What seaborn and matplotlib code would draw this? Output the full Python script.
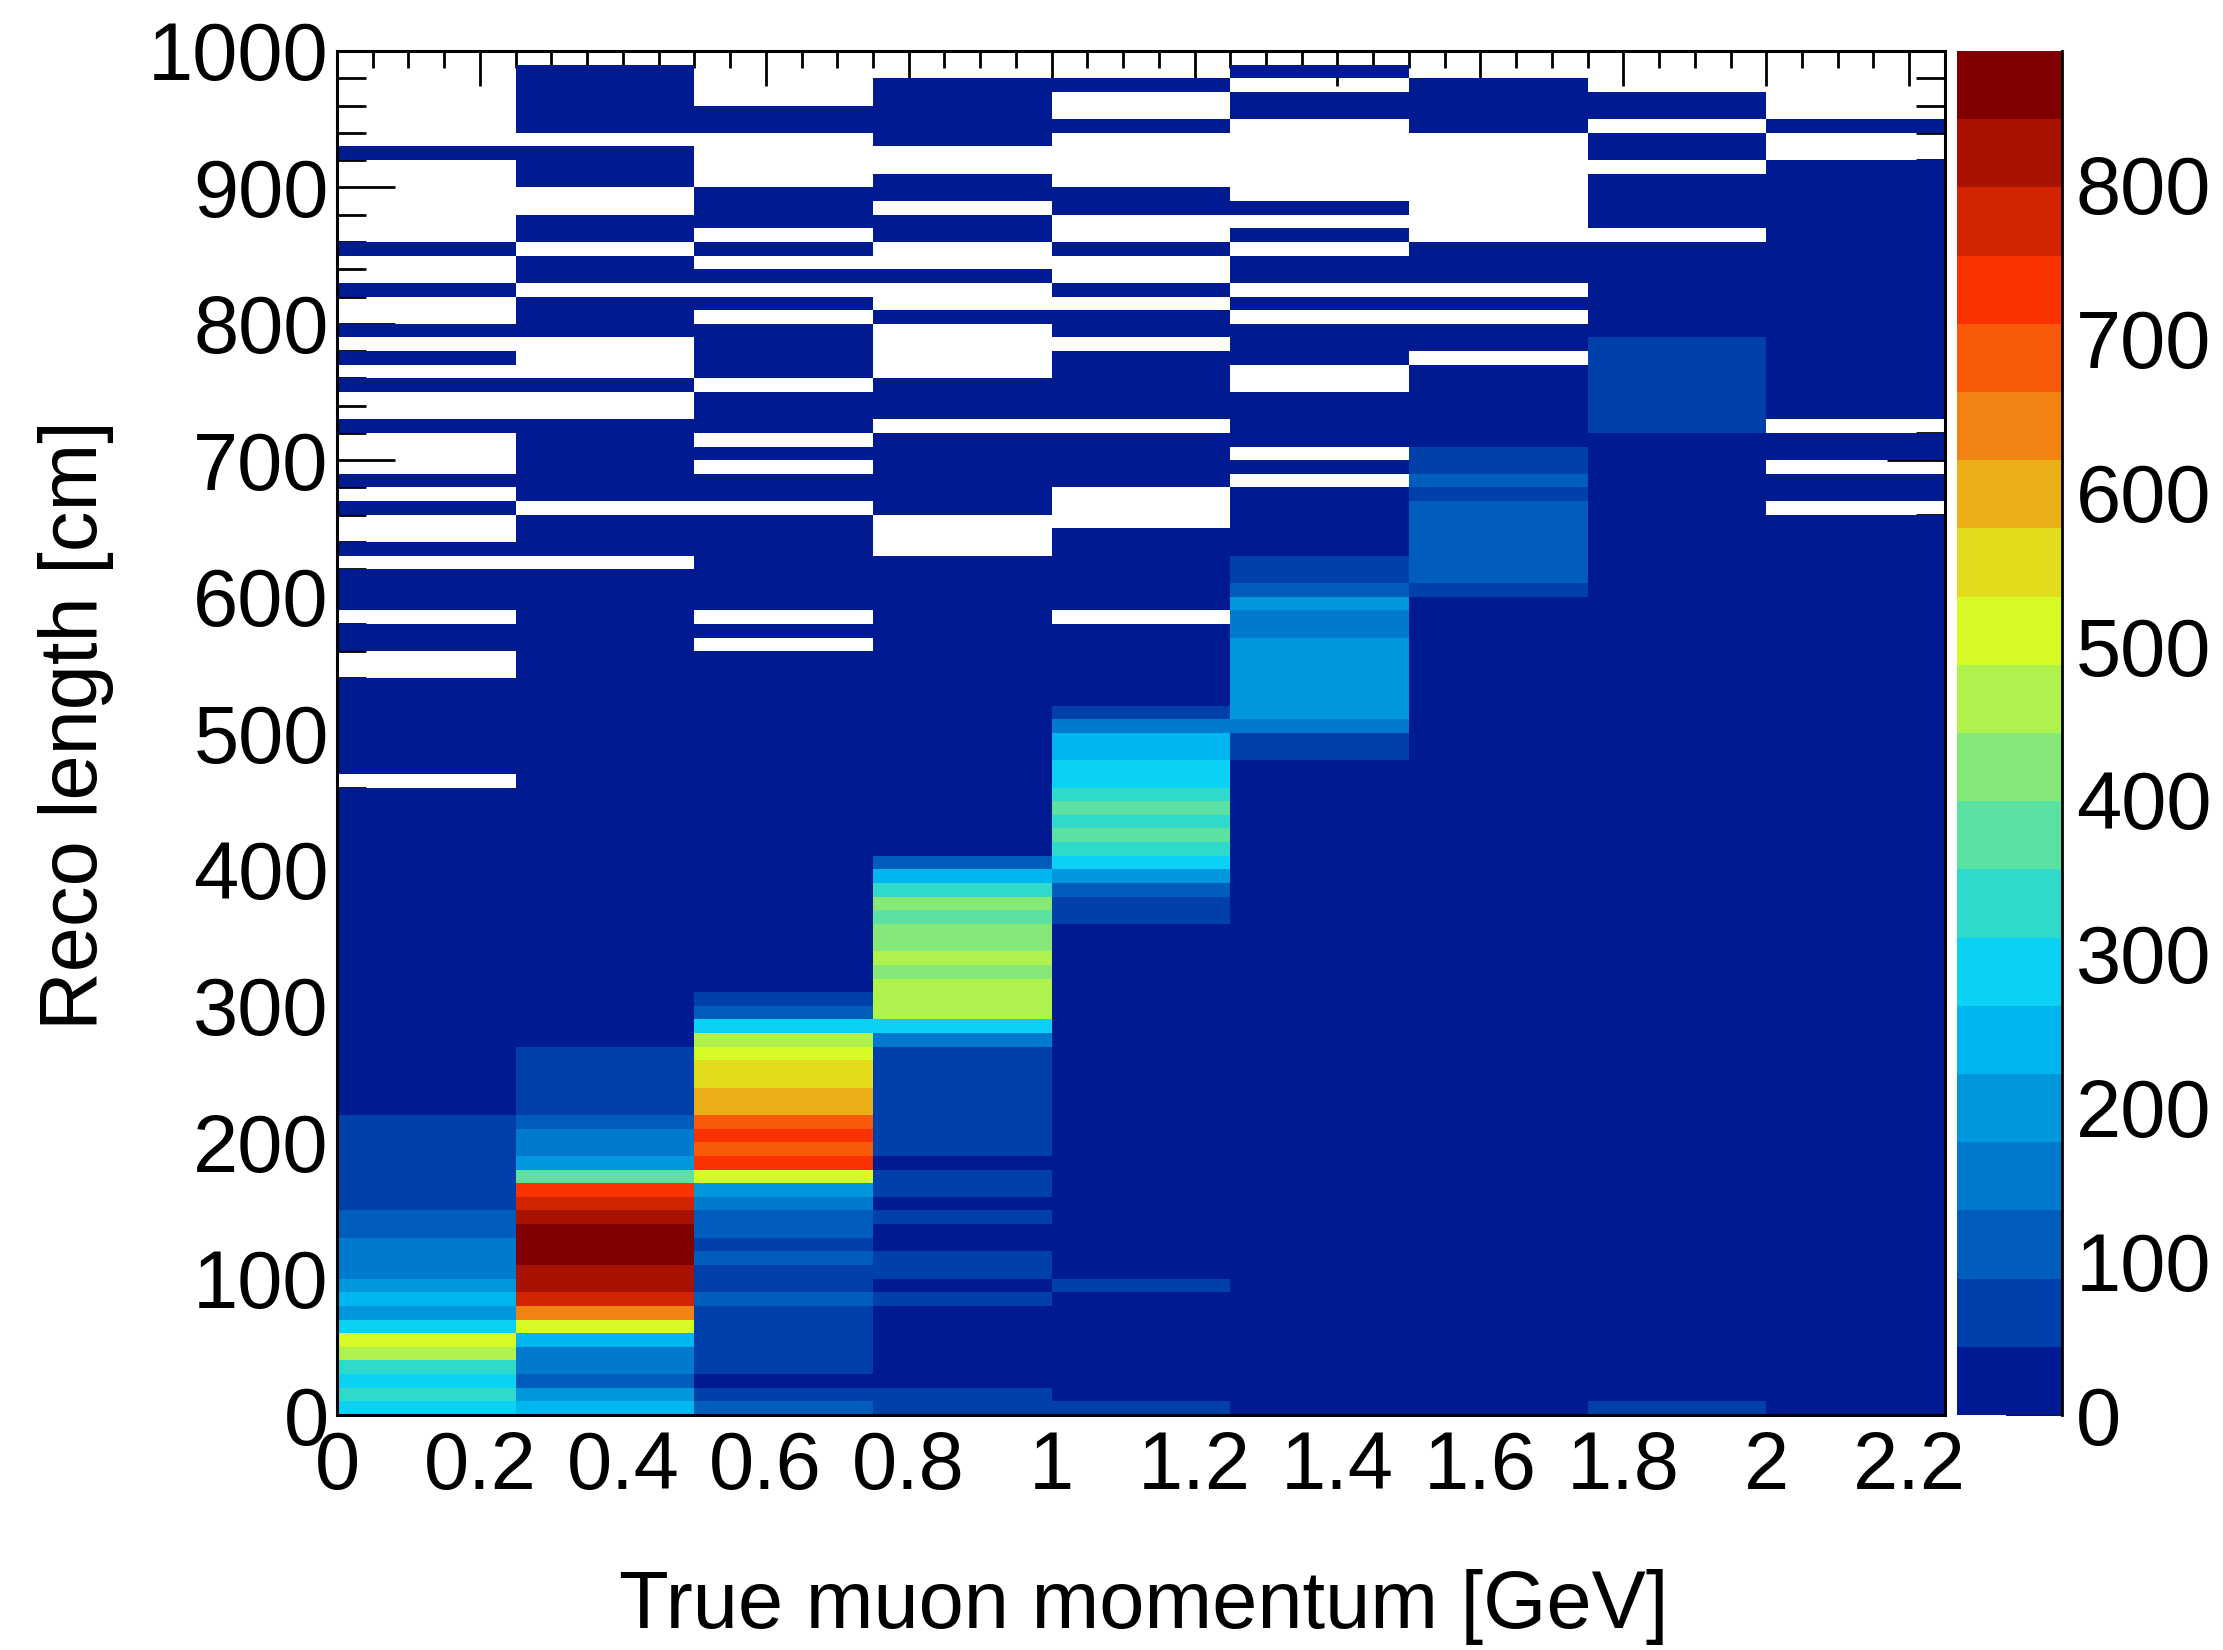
import numpy as np
import pandas as pd
import matplotlib
matplotlib.use("Agg")
import matplotlib.pyplot as plt
from matplotlib.colors import ListedColormap
import seaborn as sns

# Reco length bins: 0-10 cm ... 990-1000 cm, each list runs bottom -> top
col_000_025 = [290, 335, 295, 330, 470, 505, 285, 205, 240, 195,
               160, 150, 158, 110, 105, 70, 64, 60, 58, 62,
               55, 50, 40, 35, 30, 26, 22, 18, 16, 14,
               12, 10, 9, 8, 7, 6, 6, 5, 5, 4,
               4, 3, 3, 3, 2, 2, 0, 2, 1, 2,
               1, 1, 2, 1, 0, 0, 1, 1, 0, 1,
               1, 1, 0, 1, 0, 0, 1, 0, 1, 0,
               0, 0, 1, 0, 0, 1, 0, 1, 0, 1,
               0, 0, 1, 0, 0, 1, 0, 0, 0, 0,
               0, 0, 1, 0, 0, 0, 0, 0, 0, 0]
col_025_050 = [245, 200, 112, 150, 160, 240, 512, 645, 780, 815,
               830, 870, 887, 860, 825, 770, 735, 380, 205, 155,
               150, 100, 80, 72, 65, 56, 48, 40, 36, 32,
               28, 24, 20, 17, 15, 13, 11, 10, 8, 7,
               6, 5, 5, 4, 4, 3, 3, 3, 2, 2,
               2, 2, 1, 2, 1, 1, 2, 1, 1, 1,
               1, 1, 0, 1, 1, 1, 0, 1, 1, 1,
               1, 1, 1, 0, 0, 1, 0, 0, 0, 1,
               1, 1, 0, 1, 1, 0, 1, 1, 0, 0,
               1, 1, 1, 0, 1, 1, 1, 1, 1, 0]
col_050_075 = [115, 70, 38, 60, 62, 66, 70, 75, 100, 80,
               85, 105, 82, 120, 125, 160, 190, 500, 740, 700,
               745, 690, 600, 610, 560, 570, 520, 470, 290, 120,
               60, 35, 28, 22, 18, 15, 12, 10, 8, 7,
               6, 5, 4, 4, 3, 3, 2, 2, 2, 2,
               1, 2, 1, 1, 1, 1, 0, 1, 0, 1,
               1, 1, 1, 1, 1, 1, 0, 1, 1, 0,
               1, 0, 1, 1, 1, 0, 1, 1, 1, 1,
               0, 1, 0, 1, 0, 1, 0, 1, 1, 1,
               0, 0, 0, 0, 1, 1, 0, 0, 0, 0]
col_075_100 = [55, 60, 30, 28, 25, 22, 25, 30, 50, 40,
               55, 58, 38, 35, 52, 40, 50, 56, 42, 60,
               70, 75, 80, 80, 78, 74, 86, 160, 300, 460,
               475, 470, 440, 468, 430, 425, 390, 420, 340, 250,
               110, 30, 20, 14, 10, 8, 6, 4, 3, 2,
               2, 1, 2, 1, 1, 1, 1, 2, 1, 1,
               1, 1, 1, 0, 0, 0, 1, 1, 1, 1,
               1, 1, 0, 1, 1, 1, 0, 0, 0, 0,
               1, 0, 0, 1, 0, 0, 1, 1, 0, 1,
               1, 0, 0, 1, 1, 1, 1, 1, 0, 0]
col_100_125 = [50, 20, 15, 12, 10, 10, 12, 14, 16, 48,
               18, 20, 22, 24, 25, 26, 28, 30, 32, 34,
               35, 36, 36, 35, 34, 33, 32, 30, 28, 26,
               24, 22, 20, 18, 16, 15, 60, 80, 115, 190,
               295, 330, 370, 345, 390, 335, 300, 305, 250, 235,
               165, 70, 3, 2, 2, 1, 1, 1, 0, 1,
               1, 1, 1, 1, 1, 0, 0, 0, 1, 1,
               1, 1, 0, 1, 1, 1, 1, 1, 0, 1,
               1, 0, 1, 0, 0, 1, 0, 0, 1, 1,
               0, 0, 0, 0, 1, 0, 0, 1, 0, 0]
col_125_150 = [6, 4, 3, 3, 2, 2, 2, 3, 3, 2,
               3, 3, 4, 4, 5, 5, 6, 6, 7, 7,
               8, 8, 9, 9, 10, 11, 11, 12, 12, 13,
               13, 14, 14, 15, 15, 16, 16, 17, 18, 20,
               22, 24, 26, 28, 30, 32, 34, 38, 60, 70,
               160, 200, 205, 210, 215, 205, 195, 150, 140, 190,
               110, 75, 55, 2, 1, 1, 1, 1, 0, 1,
               0, 1, 1, 1, 1, 0, 0, 1, 1, 1,
               0, 1, 0, 1, 1, 0, 1, 0, 1, 0,
               0, 0, 0, 0, 0, 1, 1, 0, 1, 0]
col_150_175 = [8, 5, 4, 3, 3, 3, 2, 2, 2, 3,
               2, 3, 3, 2, 3, 3, 3, 4, 4, 4,
               4, 5, 5, 5, 6, 6, 6, 7, 7, 7,
               8, 8, 9, 9, 10, 10, 11, 11, 12, 12,
               13, 13, 14, 15, 15, 16, 17, 18, 18, 19,
               20, 22, 24, 25, 27, 28, 30, 32, 34, 38,
               50, 100, 110, 115, 105, 95, 100, 70, 100, 60,
               55, 2, 1, 1, 1, 1, 1, 0, 1, 1,
               0, 1, 0, 1, 1, 1, 0, 0, 0, 0,
               0, 0, 0, 0, 1, 1, 1, 1, 0, 0]
col_175_200 = [48, 6, 5, 4, 4, 3, 3, 2, 3, 2,
               3, 2, 3, 3, 4, 3, 4, 4, 5, 4,
               5, 5, 6, 5, 6, 7, 6, 7, 8, 7,
               8, 9, 8, 9, 10, 9, 10, 11, 10, 11,
               12, 11, 12, 13, 12, 13, 14, 13, 14, 15,
               14, 15, 16, 15, 16, 17, 16, 17, 18, 17,
               18, 17, 16, 15, 14, 13, 12, 11, 10, 9,
               8, 10, 50, 55, 60, 58, 52, 50, 46, 2,
               1, 1, 1, 1, 1, 1, 0, 1, 1, 1,
               1, 0, 1, 1, 0, 1, 1, 0, 0, 0]
col_200_225 = [9, 5, 4, 3, 3, 3, 2, 2, 2, 2,
               2, 2, 3, 3, 3, 3, 3, 4, 4, 4,
               4, 4, 5, 5, 5, 5, 6, 6, 6, 6,
               7, 7, 7, 8, 8, 8, 9, 9, 9, 10,
               10, 10, 11, 11, 11, 12, 12, 12, 12, 13,
               13, 12, 12, 11, 11, 10, 10, 9, 8, 7,
               6, 5, 5, 4, 3, 3, 0, 2, 1, 0,
               1, 1, 0, 1, 1, 1, 1, 1, 1, 1,
               1, 1, 1, 1, 1, 1, 1, 1, 1, 1,
               1, 1, 0, 0, 1, 0, 0, 0, 0, 0]

momentum_bin_edges = [0.0, 0.25, 0.5, 0.75, 1.0, 1.25, 1.5, 1.75, 2.0, 2.25]
length_bin_edges = list(range(0, 1010, 10))
columns = [col_000_025, col_025_050, col_050_075, col_075_100, col_100_125,
           col_125_150, col_150_175, col_175_200, col_200_225]

x_tick_values = [0, 0.2, 0.4, 0.6, 0.8, 1.0, 1.2, 1.4, 1.6, 1.8, 2.0, 2.2]
x_tick_labels = ["0", "0.2", "0.4", "0.6", "0.8", "1", "1.2", "1.4", "1.6", "1.8", "2", "2.2"]
y_tick_values = list(range(0, 1100, 100))
z_tick_values = list(range(0, 900, 100))
z_max = 887

# 20-step rainbow palette, low -> high
palette = ["#001b92", "#0040aa", "#005dbb", "#007acc", "#0097dd",
           "#00b6ee", "#0bd1f5", "#2fd9cc", "#5be2a2", "#85e878",
           "#aff24e", "#d6fa26", "#e2dc1c", "#eaaf17", "#f08314",
           "#f85a0a", "#fa3200", "#d22400", "#a81200", "#800000"]

for c in columns:
    assert len(c) == len(length_bin_edges) - 1

x_names = [f"{a:.2f}-{b:.2f}" for a, b in zip(momentum_bin_edges[:-1], momentum_bin_edges[1:])]
y_names = [f"{a}-{b}" for a, b in zip(length_bin_edges[:-1], length_bin_edges[1:])]
counts = pd.DataFrame(np.array(columns).T, index=y_names, columns=x_names)
counts = counts.iloc[::-1]  # top row = longest reco length

sns.set_style("white")
plt.rcParams["font.family"] = ["Liberation Sans", "DejaVu Sans"]

fig = plt.figure(figsize=(22.23, 16.5), dpi=100)
ax = fig.add_axes([0.1516, 0.1424, 0.7233, 0.8267])
cax = fig.add_axes([0.8803, 0.1424, 0.0472, 0.8267])

sns.heatmap(counts, ax=ax, cbar_ax=cax, cmap=ListedColormap(palette),
            vmin=0, vmax=z_max, mask=counts.values == 0, linewidths=0,
            xticklabels=False, yticklabels=False)
ax.set_facecolor("white")

x_bin_w = momentum_bin_edges[1] - momentum_bin_edges[0]
y_bin_w = length_bin_edges[1] - length_bin_edges[0]
y_top = length_bin_edges[-1]

def xpos(v):
    return v / x_bin_w

def ypos(v):
    return (y_top - v) / y_bin_w

fs = 58.5
ax.set_xticks([xpos(v) for v in x_tick_values], labels=x_tick_labels)
ax.set_xticks([xpos(v) for v in np.arange(0, 2.25 + 1e-9, 0.05)], minor=True)
ax.set_yticks([ypos(v) for v in y_tick_values], labels=[str(v) for v in y_tick_values])
ax.set_yticks([ypos(v) for v in range(0, 1001, 20)], minor=True)

ax.tick_params(axis="x", which="both", direction="in", top=True, bottom=True,
               width=2, color="black", labelsize=fs, pad=11, labelcolor="black")
ax.tick_params(axis="x", which="major", length=25)
ax.tick_params(axis="x", which="minor", length=12.5)
ax.tick_params(axis="y", which="both", direction="in", left=True, right=True,
               width=2, color="black", labelsize=fs, pad=6, labelcolor="black")
ax.tick_params(axis="y", which="major", length=42)
ax.tick_params(axis="y", which="minor", length=21)
ax.tick_params(axis="y", labelrotation=0)

for s in ax.spines.values():
    s.set_visible(True)
    s.set_linewidth(2.2)
    s.set_color("black")
    s.set_zorder(5)

ax.set_xlabel("True muon momentum [GeV]", fontsize=fs, color="black")
ax.xaxis.set_label_coords(0.502, -0.113)
ax.set_ylabel("Reco length [cm]", fontsize=fs, color="black")
ax.yaxis.set_label_coords(-0.139, 0.506)

cbar = ax.collections[0].colorbar
cbar.set_ticks(z_tick_values)
cbar.set_ticklabels([str(v) for v in z_tick_values])
cbar.minorticks_off()
cbar.outline.set_visible(False)
cax.tick_params(axis="y", direction="in", length=40, width=1.3, color="black",
                labelsize=fs, pad=10, right=True, left=False, labelcolor="black")
cax.spines["right"].set_visible(True)
cax.spines["right"].set_linewidth(2)
cax.spines["right"].set_color("black")

fig.savefig("out.png", dpi=100, facecolor="white")
